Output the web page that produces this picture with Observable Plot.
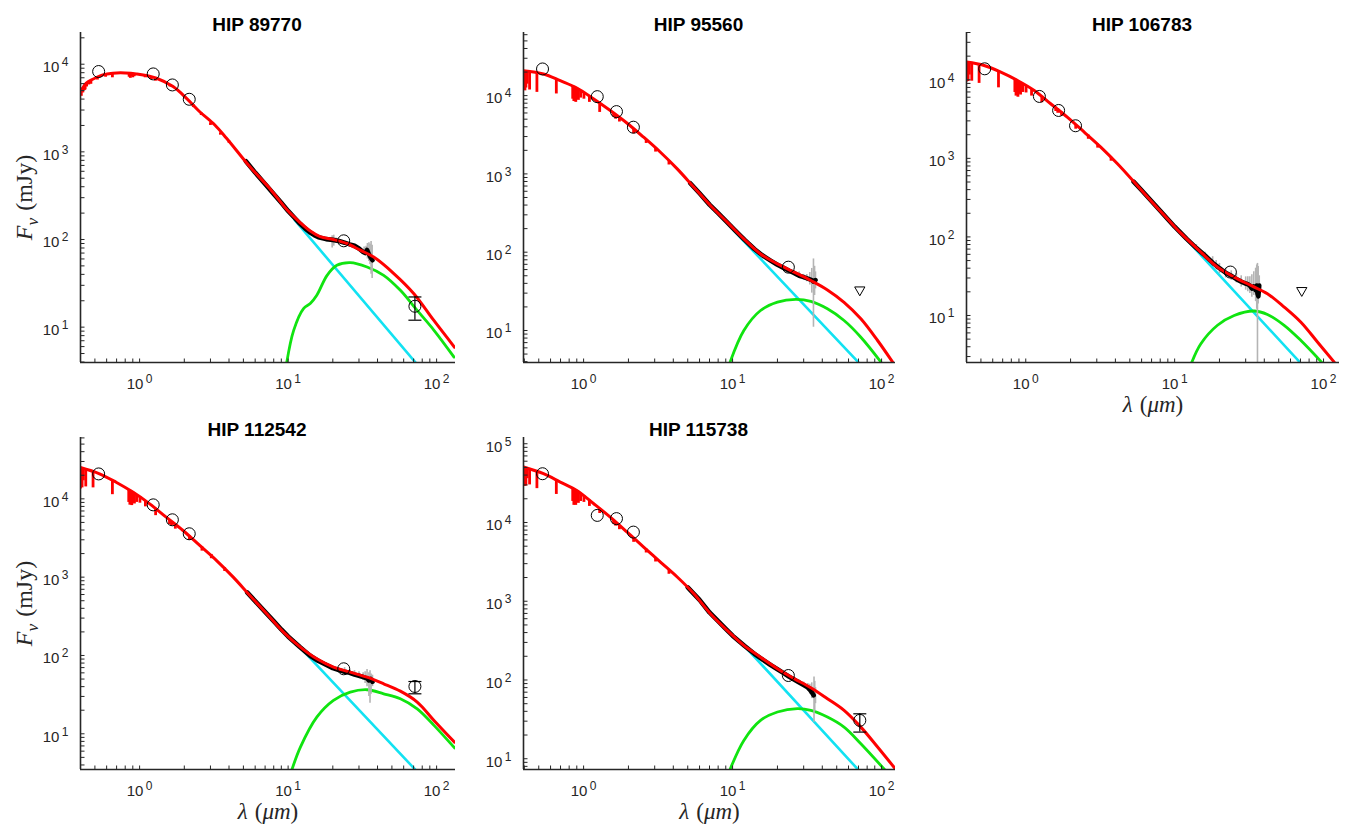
<!DOCTYPE html>
<html>
<head>
<meta charset="utf-8">
<script src="https://cdn.jsdelivr.net/npm/d3@7"></script>
<script src="https://cdn.jsdelivr.net/npm/@observablehq/plot@0.6"></script>
<style>
  html, body { margin: 0; padding: 0; background: #fff; overflow: hidden; }
  #chart { position: relative; width: 1354px; height: 837px; }
  #chart svg { position: absolute; }
</style>
</head>
<body>
<div id="chart"></div>
<script>
// ---- shared labels and ticks ----
const titles = ["HIP 89770", "HIP 95560", "HIP 106783", "HIP 112542", "HIP 115738"];
const xLabel = "λ (μm)";
const yLabel = "Fν (mJy)";
const xTickValues = [1, 10, 100];
const yTickValues = [10, 100, 1000, 10000];
const yTickValuesWide = [10, 100, 1000, 10000, 100000];

// photometry wavelengths (V, J, H, K, MIPS 24) and MIPS 70 (µm)
const photWave = [0.53, 1.235, 1.662, 2.159, 23.68];
const mips70Wave = [71.42];

// hydrogen / metal absorption features in the A-type model spectra (µm)
const lineWaveA = [0.400, 0.404, 0.410, 0.418, 0.434, 0.486, 0.656, 0.845, 0.860, 0.875, 0.886, 0.901, 0.923, 0.955, 1.005, 1.094, 1.282, 1.59, 1.64, 1.74, 2.166, 2.63, 3.04, 3.74];

// ---- HIP 89770 ----
const xDomain89770 = [0.4, 134];
const yDomain89770 = [3.95, 23000];
const phot89770 = [8250, 7750, 5800, 3980, 96.6];
const mips89770 = [17.3, 12.0, 22.1]; // flux, lower, upper
const modelWave89770 = [0.397, 0.436, 0.484, 0.565, 0.66, 0.80, 0.95, 1.30, 1.68, 2.07, 2.54, 3.2, 3.85, 5.53, 7.5, 9.9, 12.1, 14.1, 16.4, 20.2, 24.9, 30.6, 37.7, 51.5, 70.3, 95.5, 132];
const modelFlux89770 = [4660, 6070, 6740, 7550, 7900, 7950, 7740, 6920, 5550, 4080, 2870, 2040, 1430, 676, 385, 215, 155, 125, 108, 100, 90, 75.5, 63, 40.9, 24.1, 12.0, 5.9];
const lineWave89770 = [0.405, 0.415, 0.425, 0.43, 0.44, 0.455, 0.47, 0.52, 0.59, 0.656, 0.85, 0.866, 0.88, 0.9, 0.92, 1.09, 1.2, 1.28, 1.6, 2.3, 2.6, 3.0, 3.5, 4.0];
const lineTop89770 = [4950, 5400, 5750, 5900, 6120, 6350, 6550, 7150, 7650, 7900, 7950, 7930, 7900, 7880, 7830, 7500, 7200, 7000, 5850, 3450, 2780, 2150, 1650, 1330];
const lineBottom89770 = [4300, 4700, 5000, 5100, 5500, 5800, 5900, 6600, 7100, 7000, 7100, 6900, 7200, 7000, 7200, 7000, 6700, 6400, 5500, 3200, 2600, 2000, 1550, 1250];
const starWave89770 = [11.1, 74];
const starFlux89770 = [166, 3.75];
const dustWave89770 = [9.7, 10.9, 12.7, 14.1, 15.6, 18.3, 21.3, 26.2, 34, 44, 57, 74, 96, 131];
const dustFlux89770 = [3.6, 9.2, 16.3, 18.6, 23.1, 39, 50.8, 54.5, 48.6, 39, 26.3, 15.5, 9.2, 4.55];
const irsWave89770 = [5.2, 6, 7, 8, 9, 10, 11, 12, 13, 14, 15, 16, 18, 20, 22, 24, 26, 28, 30, 32, 33, 34, 35, 36, 37];
const irsFlux89770 = [780, 580, 430, 330, 262, 212, 178, 152, 134, 121, 112, 106, 101, 99, 96, 92, 88, 85, 79, 72, 70, 76, 68, 62, 58];
const noiseWave89770 = [19.8, 20.3, 21.0, 22.5, 32.5, 33.5, 34.2, 35.0, 35.6, 36.2, 36.8];
const noiseLo89770 = [80, 84, 90, 90, 70, 66, 60, 56, 52, 40, 36];
const noiseHi89770 = [110, 112, 104, 98, 82, 84, 90, 92, 88, 95, 86];

// ---- HIP 95560 ----
const xDomain95560 = [0.395, 124];
const yDomain95560 = [3.9, 64000];
const phot95560 = [21900, 9700, 6250, 3950, 64.4];
const limit95560 = [33];
const modelWave95560 = [0.395, 0.538, 0.697, 0.90, 1.17, 1.51, 1.96, 2.53, 3.28, 4.25, 5.5, 7.1, 9.2, 11.9, 15.4, 20, 25.9, 33.5, 43.3, 56, 72.6, 94, 118.6];
const modelFlux95560 = [20800, 18900, 15500, 12500, 9060, 6450, 4440, 2940, 1890, 1160, 676, 394, 242, 148, 95, 71, 55.6, 43.5, 33, 22.9, 14.1, 7.45, 3.95];
const lineTop95560 = [20800, 20700, 20600, 20400, 20100, 19400, 16200, 13300, 13100, 12900, 12700, 12500, 12200, 11600, 10900, 9840, 8050, 6000, 5740, 5250, 3780, 2760, 2150, 1475];
const lineBottom95560 = [12000, 11500, 12500, 14000, 11800, 11000, 10500, 9000, 8400, 9500, 8200, 9000, 8700, 9300, 9000, 8200, 6100, 5300, 5000, 4600, 3250, 2450, 1900, 1300];
const starWave95560 = [10.2, 71];
const starFlux95560 = [189, 3.8];
const dustWave95560 = [9.6, 11.9, 15.4, 20, 26.5, 33.5, 43.3, 56, 72.6, 99];
const dustFlux95560 = [3.9, 10, 18, 23, 24.9, 23.5, 18.9, 13.4, 8.2, 3.95];
const irsWave95560 = [5.2, 6, 7, 8, 9, 10, 12, 14, 16, 18, 20, 22, 24, 26, 28, 30, 32, 34, 35, 36];
const irsFlux95560 = [760, 565, 405, 315, 252, 205, 145, 110, 90, 78, 69, 63, 58, 54, 50, 48, 46, 44, 42, 44];
const noiseWave95560 = [26, 28, 30, 31.5, 33, 34, 34.9, 35.5, 36];
const noiseLo95560 = [52, 48, 44, 42, 38, 30, 11, 28, 34];
const noiseHi95560 = [58, 56, 52, 52, 55, 62, 82, 66, 56];

// ---- HIP 106783 ----
const xDomain106783 = [0.4, 128];
const yDomain106783 = [2.52, 40000];
const phot106783 = [13800, 6140, 4070, 2600, 35.7];
const limit106783 = [20.8];
const modelWave106783 = [0.40, 0.525, 0.68, 0.88, 1.14, 1.47, 1.9, 2.47, 3.19, 4.13, 5.35, 6.9, 8.95, 11.1, 15, 19.4, 25.1, 32.5, 42, 54.4, 70.5, 91, 118];
const modelFlux106783 = [16800, 15200, 12500, 9800, 7310, 4950, 3350, 2160, 1390, 853, 499, 291, 170, 110, 64, 41.3, 30.8, 24.1, 18.9, 12.8, 8.2, 4.6, 2.55];
const lineTop106783 = [16800, 16750, 16650, 16500, 16300, 15600, 12900, 10200, 10000, 9850, 9720, 9500, 9250, 8900, 8400, 7650, 6100, 4500, 4300, 3900, 2700, 1980, 1520, 1030];
const lineBottom106783 = [9400, 9800, 9500, 11500, 9600, 9000, 7900, 6900, 6200, 7200, 6000, 6600, 6400, 6900, 6800, 6200, 5100, 3950, 3750, 3450, 2350, 1750, 1350, 920];
const starWave106783 = [11.1, 69.2];
const starFlux106783 = [109, 2.55];
const dustWave106783 = [13.0, 15, 19.4, 25.1, 34.2, 42, 54.4, 70.5, 97];
const dustFlux106783 = [2.5, 4.36, 7.5, 10, 11.4, 10.3, 7.5, 4.8, 2.55];
const irsWave106783 = [5.3, 6, 7, 8, 9, 10, 12, 14, 16, 18, 20, 22, 24, 26, 28, 30, 31, 32, 33, 34, 35, 35.6, 36, 36.5, 37];
const irsFlux106783 = [505, 392, 285, 215, 168, 135, 95, 72, 58, 47, 40, 35, 32, 29, 27, 25.5, 25, 24, 22, 23.5, 21, 24, 19, 17.5, 24];
const noiseWave106783 = [14, 16, 18, 19, 20, 22, 24, 26, 28, 30, 31, 32, 33, 34, 35, 35.6, 36.0, 36.4, 37];
const noiseLo106783 = [66, 52, 42, 38, 34, 30, 28, 26, 23, 21, 20, 19, 17, 18, 15, 12, 1, 14, 17];
const noiseHi106783 = [80, 64, 56, 50, 46, 40, 37, 34, 32, 31, 31, 31, 33, 36, 40, 44, 46, 42, 32];

// ---- HIP 112542 ----
const xDomain112542 = [0.4, 134];
const yDomain112542 = [3.5, 60700];
const phot112542 = [20800, 8380, 5400, 3580, 67.6];
const mips112542 = [40.2, 32.4, 46.5];
const modelWave112542 = [0.394, 0.537, 0.695, 0.90, 1.17, 1.51, 1.96, 2.54, 3.3, 4.27, 5.53, 7.18, 9.3, 12.1, 15.6, 20.2, 26.2, 34, 44, 57, 74, 96, 132];
const modelFlux112542 = [25300, 20900, 16300, 12200, 8630, 5830, 3940, 2540, 1630, 1000, 583, 341, 199, 128, 90.6, 71, 61.2, 52.8, 43.5, 35, 25.4, 14.8, 7.8];
const lineTop112542 = [25000, 24800, 24500, 24100, 23500, 22000, 17300, 13100, 12900, 12600, 12400, 12200, 11800, 11300, 10700, 9500, 7600, 5400, 5150, 4650, 3400, 2430, 1950, 1320];
const lineBottom112542 = [13400, 14500, 13800, 17000, 14200, 13800, 11300, 9000, 8300, 9400, 8200, 8800, 8600, 9000, 8800, 7900, 6100, 4700, 4500, 4100, 2950, 2150, 1720, 1180];
const starWave112542 = [10.9, 72];
const starFlux112542 = [155, 3.47];
const dustWave112542 = [10.6, 12.1, 15.6, 20.2, 26.2, 34, 44, 57, 74, 96, 132];
const dustFlux112542 = [3.47, 6.76, 16.3, 26.7, 34, 36.5, 32.4, 28, 20.8, 12.8, 6.6];
const irsWave112542 = [5.3, 6, 7, 8, 9, 10, 12, 14, 16, 18, 20, 22, 24, 26, 28, 30, 32, 34, 35, 36, 37];
const irsFlux112542 = [640, 495, 360, 275, 215, 175, 128, 100, 85, 76, 69, 65, 62, 60, 57, 55, 53, 51, 48, 50, 46];
const noiseWave112542 = [24, 26, 28, 30, 32, 33, 34, 35, 35.6, 36.2, 37];
const noiseLo112542 = [60, 57, 54, 52, 48, 44, 40, 30, 24.5, 32, 40];
const noiseHi112542 = [70, 66, 64, 62, 60, 62, 66, 60, 64, 58, 56];

// ---- HIP 115738 ----
const xDomain115738 = [0.395, 124];
const yDomain115738 = [7.3, 120000];
const phot115738 = [41600, 12300, 11200, 7550, 114];
const mips115738 = [30.7, 21.8, 37.2];
const modelWave115738 = [0.395, 0.538, 0.697, 0.90, 1.17, 1.51, 1.96, 2.53, 3.28, 4.25, 5.5, 7.1, 9.2, 11.9, 15.4, 20, 25.9, 33.5, 43.3, 56, 72.6, 94, 125];
const modelFlux115738 = [50600, 41600, 32600, 25500, 17300, 11700, 7550, 4870, 3140, 2030, 1245, 693, 426, 275, 195, 139, 104, 79.8, 57.8, 41.1, 25.2, 14.1, 7.25];
const lineTop115738 = [50300, 50000, 49500, 48800, 47500, 44000, 34500, 27200, 26700, 26200, 25900, 25400, 24600, 23500, 21900, 19300, 15100, 10800, 10200, 9100, 6400, 4600, 3550, 2480];
const lineBottom115738 = [28700, 30500, 29000, 36000, 30000, 26900, 22700, 18500, 16500, 19000, 16500, 18000, 17500, 18500, 18000, 16000, 13000, 9500, 9000, 8100, 5600, 4100, 3150, 2200];
const starWave115738 = [12.2, 69.7];
const starFlux115738 = [262, 7.25];
const dustWave115738 = [9.6, 11.9, 15.4, 20, 27.2, 33.5, 43.3, 56, 72.6, 105];
const dustFlux115738 = [7.25, 17.1, 30.7, 39.2, 43.2, 41.1, 33.8, 25.2, 15.5, 7.25];
const irsWave115738 = [5.0, 6, 7, 8, 9, 10, 12, 14, 16, 18, 20, 22, 24, 26, 28, 30, 32, 33, 34, 35];
const irsFlux115738 = [1500, 1040, 720, 560, 445, 365, 272, 215, 180, 155, 137, 122, 110, 101, 93, 86, 80, 75, 70, 64];
const noiseWave115738 = [28, 30, 32, 33, 34, 35.2, 35.6, 36];
const noiseLo115738 = [88, 80, 72, 66, 58, 29, 40, 50];
const noiseHi115738 = [100, 94, 90, 88, 92, 109, 96, 80];

// ---- styling ----
const sans = "'Liberation Sans', Arial, Helvetica, sans-serif";
const serif = "'Liberation Serif', 'Times New Roman', serif";
const axisColor = "#262626";
const red = "#ff0000";
const cyan = "#12e2f2";
const green = "#10e410";
const gray = "#b4b4b4";

// small custom symbols: inward axis ticks and error-bar caps
const tickUp = { draw(ctx) { ctx.moveTo(0, 0); ctx.lineTo(0, -4); } };
const tickRight = { draw(ctx) { ctx.moveTo(0, 0); ctx.lineTo(4, 0); } };
const capSymbol = { draw(ctx) { ctx.moveTo(-6.5, 0); ctx.lineTo(6.5, 0); } };

const supDigits = "⁰¹²³⁴⁵⁶⁷⁸⁹";
const powerLabel = (v) => "10" + String(Math.round(Math.log10(v))).split("").map((c) => supDigits[+c]).join("");

// every 1–9 × 10^k inside a log domain
function logTickValues([lo, hi]) {
  const out = [];
  for (let e = Math.floor(Math.log10(lo)); e <= Math.ceil(Math.log10(hi)); e++) {
    for (let m = 1; m < 10; m++) {
      const v = +(m * Math.pow(10, e)).toPrecision(6);
      if (v >= lo && v <= hi) out.push(v);
    }
  }
  return out;
}

const panels = [
  { title: titles[0], col: 0, row: 0, plotW: 375, xDomain: xDomain89770, yDomain: yDomain89770, yTicks: yTickValues,
    phot: phot89770, mips: mips89770, limit: null, modelWave: modelWave89770, modelFlux: modelFlux89770,
    lineWave: lineWave89770, lineTop: lineTop89770, lineBottom: lineBottom89770,
    starWave: starWave89770, starFlux: starFlux89770, dustWave: dustWave89770, dustFlux: dustFlux89770,
    irsWave: irsWave89770, irsFlux: irsFlux89770, noiseWave: noiseWave89770, noiseLo: noiseLo89770, noiseHi: noiseHi89770,
    showX: false, showY: true },
  { title: titles[1], col: 1, row: 0, plotW: 372, xDomain: xDomain95560, yDomain: yDomain95560, yTicks: yTickValues,
    phot: phot95560, mips: null, limit: limit95560, modelWave: modelWave95560, modelFlux: modelFlux95560,
    lineWave: lineWaveA, lineTop: lineTop95560, lineBottom: lineBottom95560,
    starWave: starWave95560, starFlux: starFlux95560, dustWave: dustWave95560, dustFlux: dustFlux95560,
    irsWave: irsWave95560, irsFlux: irsFlux95560, noiseWave: noiseWave95560, noiseLo: noiseLo95560, noiseHi: noiseHi95560,
    showX: false, showY: false },
  { title: titles[2], col: 2, row: 0, plotW: 373, xDomain: xDomain106783, yDomain: yDomain106783, yTicks: yTickValues,
    phot: phot106783, mips: null, limit: limit106783, modelWave: modelWave106783, modelFlux: modelFlux106783,
    lineWave: lineWaveA, lineTop: lineTop106783, lineBottom: lineBottom106783,
    starWave: starWave106783, starFlux: starFlux106783, dustWave: dustWave106783, dustFlux: dustFlux106783,
    irsWave: irsWave106783, irsFlux: irsFlux106783, noiseWave: noiseWave106783, noiseLo: noiseLo106783, noiseHi: noiseHi106783,
    showX: true, showY: false },
  { title: titles[3], col: 0, row: 1, plotW: 375, xDomain: xDomain112542, yDomain: yDomain112542, yTicks: yTickValues,
    phot: phot112542, mips: mips112542, limit: null, modelWave: modelWave112542, modelFlux: modelFlux112542,
    lineWave: lineWaveA, lineTop: lineTop112542, lineBottom: lineBottom112542,
    starWave: starWave112542, starFlux: starFlux112542, dustWave: dustWave112542, dustFlux: dustFlux112542,
    irsWave: irsWave112542, irsFlux: irsFlux112542, noiseWave: noiseWave112542, noiseLo: noiseLo112542, noiseHi: noiseHi112542,
    showX: true, showY: true },
  { title: titles[4], col: 1, row: 1, plotW: 372, xDomain: xDomain115738, yDomain: yDomain115738, yTicks: yTickValuesWide,
    phot: phot115738, mips: mips115738, limit: null, modelWave: modelWave115738, modelFlux: modelFlux115738,
    lineWave: lineWaveA, lineTop: lineTop115738, lineBottom: lineBottom115738,
    starWave: starWave115738, starFlux: starFlux115738, dustWave: dustWave115738, dustFlux: dustFlux115738,
    irsWave: irsWave115738, irsFlux: irsFlux115738, noiseWave: noiseWave115738, noiseLo: noiseLo115738, noiseHi: noiseHi115738,
    showX: true, showY: false }
];

const colLeft = [0, 443, 886];
const rowTop = [0, 405];
const rowPlotH = [330, 332];

function sedPanel(p) {
  const marginLeft = 80, marginTop = 32, marginBottom = 62, marginRight = 18;
  const plotH = rowPlotH[p.row];
  const marks = [
    // stellar photosphere and dust blackbody
    Plot.line(p.starWave, { x: p.starWave, y: p.starFlux, stroke: cyan, strokeWidth: 2.6, clip: true }),
    Plot.line(p.dustWave, { x: p.dustWave, y: p.dustFlux, stroke: green, strokeWidth: 2.8, curve: "catmull-rom", clip: true }),
    // IRS spectrum with its uncertainties
    Plot.ruleX(p.noiseWave, { x: p.noiseWave, y1: p.noiseLo, y2: p.noiseHi, stroke: gray, strokeWidth: 1.6, clip: true }),
    Plot.line(p.irsWave, { x: p.irsWave, y: p.irsFlux, stroke: "black", strokeWidth: 4.6, strokeLinejoin: "round", clip: true }),
    // total model: photosphere (with absorption lines) + dust
    Plot.ruleX(p.lineWave, { x: p.lineWave, y1: p.lineTop, y2: p.lineBottom, stroke: red, strokeWidth: 2.8, clip: true }),
    Plot.line(p.modelWave, { x: p.modelWave, y: p.modelFlux, stroke: red, strokeWidth: 3, curve: "catmull-rom", clip: true }),
    // photometry
    Plot.dot(photWave, { x: photWave, y: p.phot, r: 6, stroke: "black", strokeWidth: 1, fill: "none" }),
    // axis lines and inward ticks
    Plot.ruleX([p.xDomain[0]], { stroke: axisColor, strokeWidth: 1.6 }),
    Plot.ruleY([p.yDomain[0]], { stroke: axisColor, strokeWidth: 1.6 }),
    Plot.dot(logTickValues(p.xDomain), { x: (d) => d, frameAnchor: "bottom", symbol: tickUp, stroke: axisColor, fill: "none", strokeWidth: 1 }),
    Plot.dot(logTickValues(p.yDomain), { y: (d) => d, frameAnchor: "left", symbol: tickRight, stroke: axisColor, fill: "none", strokeWidth: 1 }),
    Plot.axisX({ ticks: xTickValues, tickSize: 0, tickPadding: 16, tickFormat: powerLabel, fontSize: 15, fill: axisColor, label: null }),
    Plot.axisY({ ticks: p.yTicks, tickSize: 0, tickPadding: 12, tickFormat: powerLabel, fontSize: 15, fill: axisColor, label: null, dy: 3 }),
    Plot.text([p.title], { frameAnchor: "top", dy: -15, dx: -11, fontSize: 19, fontWeight: "bold", fill: "black", fontFamily: sans })
  ];
  if (p.mips) {
    marks.push(
      Plot.ruleX(mips70Wave, { x: mips70Wave, y1: [p.mips[1]], y2: [p.mips[2]], stroke: "black", strokeWidth: 1.2 }),
      Plot.dot([p.mips[1], p.mips[2]], { x: [mips70Wave[0], mips70Wave[0]], y: [p.mips[1], p.mips[2]], symbol: capSymbol, stroke: "black", fill: "none", strokeWidth: 1.2 }),
      Plot.dot(mips70Wave, { x: mips70Wave, y: [p.mips[0]], r: 6, stroke: "black", strokeWidth: 1, fill: "none" })
    );
  }
  if (p.limit) {
    marks.push(Plot.dot(mips70Wave, { x: mips70Wave, y: p.limit, symbol: "triangle", r: 3.8, rotate: 180, stroke: "black", strokeWidth: 1, fill: "none" }));
  }
  if (p.showX) marks.push(Plot.text([xLabel], { frameAnchor: "bottom", dy: 49, fontSize: 23, fontFamily: serif, fill: axisColor }));
  if (p.showY) marks.push(Plot.text([yLabel], { frameAnchor: "left", textAnchor: "middle", dx: -56, rotate: -90, fontSize: 24, fontFamily: serif, fill: axisColor }));

  const svg = Plot.plot({
    width: marginLeft + p.plotW + marginRight,
    height: marginTop + plotH + marginBottom,
    marginLeft, marginRight, marginTop, marginBottom,
    x: { type: "log", domain: p.xDomain, label: null },
    y: { type: "log", domain: p.yDomain, label: null },
    style: { background: "transparent", overflow: "visible", fontFamily: sans, color: axisColor },
    marks
  });
  svg.style.left = colLeft[p.col] + "px";
  svg.style.top = rowTop[p.row] + "px";
  return svg;
}

function typeset(svg) {
  const root = d3.select(svg);
  // 10^k tick labels with a raised exponent
  root.selectAll('g[aria-label$="tick label"] text').each(function () {
    const t = this.textContent;
    if (!t.startsWith("10")) return;
    const exp = [...t.slice(2)].map((c) => supDigits.indexOf(c)).join("");
    const sel = d3.select(this);
    sel.text("10");
    sel.append("tspan").attr("dx", 2.5).attr("dy", "-0.5em").attr("font-size", "0.8em").text(exp);
  });
  root.selectAll("text").each(function () {
    const sel = d3.select(this);
    const t = this.textContent;
    if (t === yLabel) {
      sel.text(null);
      sel.append("tspan").attr("font-style", "italic").text("F");
      sel.append("tspan").attr("font-style", "italic").attr("font-size", "0.72em").attr("dy", 6).text("ν");
      sel.append("tspan").attr("dy", -6).attr("dx", 7).text("(mJy)");
    } else if (t === xLabel) {
      sel.text(null);
      sel.append("tspan").attr("font-style", "italic").text("λ");
      sel.append("tspan").attr("dx", 7).text("(");
      sel.append("tspan").attr("font-style", "italic").text("μm");
      sel.append("tspan").text(")");
    }
  });
}

const chart = document.getElementById("chart");
for (const p of panels) {
  const svg = sedPanel(p);
  chart.appendChild(svg);
  typeset(svg);
}
</script>
</body>
</html>
